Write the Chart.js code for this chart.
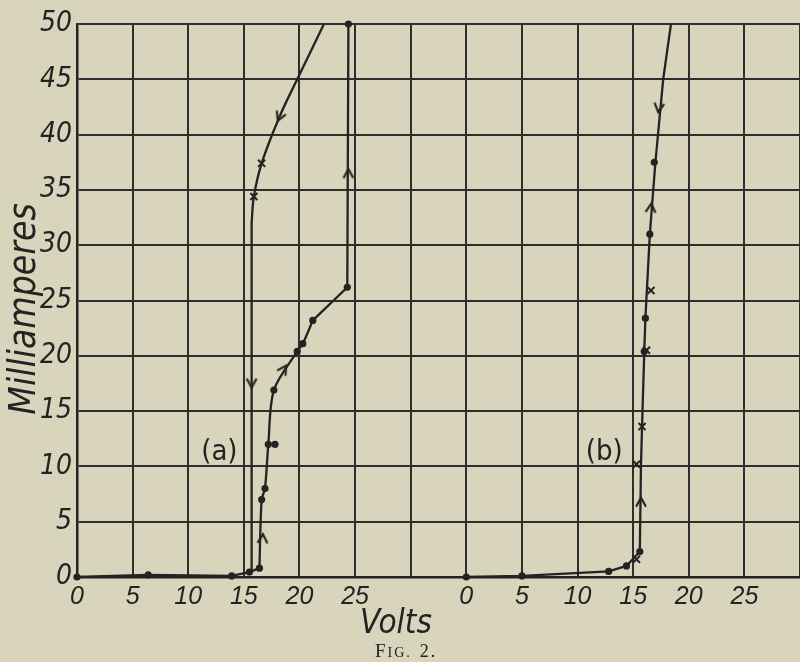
<!DOCTYPE html>
<html>
<head>
<meta charset="utf-8">
<script src="https://cdn.jsdelivr.net/npm/chart.js@4/dist/chart.umd.min.js"></script>
<style>
  html, body { margin: 0; padding: 0; background: #d8d5bc; overflow: hidden; }
  #c { display: block; }
</style>
</head>
<body>
<canvas id="c" width="800" height="662"></canvas>
<script>
// ---------- DATA (volts, milliamperes) ----------
// Tick values
const xTickLabelsA = [0, 5, 10, 15, 20, 25];
const xTickLabelsB = [0, 5, 10, 15, 20, 25];
const yTicks = [0, 5, 10, 15, 20, 25, 30, 35, 40, 45, 50];

// Panel (a): rising curve (voltage increasing)
const aRiseV = [0, 6.4, 13.9, 15.5, 16.4, 16.6, 16.9, 17.2, 17.7, 19.8, 20.3, 21.2, 24.3, 24.4];
const aRiseI = [0, 0.2, 0.1, 0.45, 0.8, 7, 8, 12, 16.9, 20.4, 21.1, 23.2, 26.2, 50];
// Panel (a): falling curve (voltage decreasing)
const aFallV = [22.2, 19.8, 18.2, 16.6, 15.9, 15.7, 15.7];
const aFallI = [50, 45, 41.6, 37.4, 34.4, 32, 0.45];
// Panel (a): observed points
const aDotV = [0, 6.4, 13.9, 15.5, 16.4, 16.6, 16.9, 17.2, 17.8, 17.7, 19.8, 20.3, 21.2, 24.3, 24.4];
const aDotI = [0, 0.2, 0.1, 0.45, 0.8, 7, 8, 12, 12, 16.9, 20.4, 21.1, 23.2, 26.2, 50];
const aCrossV = [16.6, 15.9];
const aCrossI = [37.4, 34.4];
const aArrowV = [16.7, 18.6, 24.4, 15.7, 18.2];
const aArrowI = [3.5, 18.8, 36.5, 17.5, 41.6];
const aArrowRot = [3, 32, 0, 180, 203];

// Panel (b)
const bLineV = [0, 5, 12.8, 14.4, 15.6, 15.7, 15.8, 16.0, 16.1, 16.5, 17.0, 17.7, 18.4];
const bLineI = [0, 0.1, 0.5, 1.0, 2.3, 10, 13.6, 20.4, 23.4, 31.0, 37.5, 45, 50];
const bDotV = [0, 5, 12.8, 14.4, 15.6, 16.0, 16.1, 16.5, 16.9];
const bDotI = [0, 0.1, 0.5, 1.0, 2.3, 20.4, 23.4, 31.0, 37.5];
const bCrossV = [15.3, 15.3, 15.8, 16.2, 16.6];
const bCrossI = [1.6, 10.2, 13.6, 20.5, 25.9];
const bArrowV = [15.7, 16.6, 17.3];
const bArrowI = [6.8, 33.4, 42.4];
const bArrowRot = [0, 5, 188];

// ---------- layout helpers ----------
const B_OFFSET = 35;   // panel (b) origin sits 7 grid squares right of panel (a)
const X_MAX = 65;
const INK = '#232323';
const PAPER = '#d8d5bc';

function pts(vs, is, off) {
  return vs.map((v, k) => ({ x: v + (off || 0), y: is[k] }));
}

// chevron arrow head image
const arrowImg = document.createElement('canvas');
arrowImg.width = 14; arrowImg.height = 14;
(function () {
  const g = arrowImg.getContext('2d');
  g.strokeStyle = INK; g.lineWidth = 2.2; g.lineCap = 'round'; g.lineJoin = 'miter';
  g.beginPath(); g.moveTo(2.5, 11); g.lineTo(7, 3); g.lineTo(11.5, 11); g.stroke();
})();

function lineDS(data, tension) {
  return { data, showLine: true, borderColor: INK, borderWidth: 2.3, pointRadius: 0,
           tension: tension || 0, fill: false, clip: false, order: 2 };
}
function dotDS(data) {
  return { data, showLine: false, pointStyle: 'circle', pointRadius: 3.6,
           pointBackgroundColor: INK, pointBorderColor: INK, pointBorderWidth: 0, clip: false, order: 1 };
}
function crossDS(data) {
  return { data, showLine: false, pointStyle: 'crossRot', pointRadius: 5,
           pointBorderColor: INK, pointBorderWidth: 2, clip: false, order: 1 };
}
function arrowDS(data, rot) {
  return { data, showLine: false, pointStyle: arrowImg, pointRadius: 7,
           pointRotation: rot, clip: false, order: 1 };
}

const aRise = pts(aRiseV, aRiseI);
const aFall = pts(aFallV, aFallI);
const datasets = [
  lineDS(aRise.slice(0, 5), 0),
  lineDS(aRise.slice(4, 12), 0.3),
  lineDS(aRise.slice(11), 0),
  lineDS(aFall.slice(0, 6), 0.4),
  lineDS(aFall.slice(5), 0),
  lineDS(pts(bLineV, bLineI, B_OFFSET), 0),
  dotDS(pts(aDotV, aDotI)),
  crossDS(pts(aCrossV, aCrossI)),
  arrowDS(pts(aArrowV, aArrowI), aArrowRot),
  dotDS(pts(bDotV, bDotI, B_OFFSET)),
  crossDS(pts(bCrossV, bCrossI, B_OFFSET)),
  arrowDS(pts(bArrowV, bArrowI, B_OFFSET), bArrowRot)
];

const paperPlugin = {
  id: 'paper',
  beforeDraw(chart) {
    const c = chart.ctx;
    c.save(); c.fillStyle = PAPER; c.fillRect(0, 0, chart.width, chart.height); c.restore();
  }
};

const textPlugin = {
  id: 'texts',
  afterDraw(chart) {
    const c = chart.ctx, xs = chart.scales.x, ys = chart.scales.y;
    c.save();
    c.fillStyle = INK;
    c.textAlign = 'center'; c.textBaseline = 'middle';
    // y-axis title
    c.save();
    c.translate(25, 309); c.rotate(-Math.PI / 2);
    c.font = 'italic 37px "Liberation Sans Narrow", "DejaVu Sans Condensed", sans-serif';
    c.fillText('Milliamperes', 0, 0);
    c.restore();
    // x-axis title
    c.font = 'italic 33px "Liberation Sans Narrow", "DejaVu Sans Condensed", sans-serif';
    c.fillText('Volts', 396, 624);
    // figure caption in small caps
    c.textAlign = 'left'; c.textBaseline = 'alphabetic';
    try { c.letterSpacing = '2px'; } catch (e) {}
    let x = 375; const base = 657;
    c.font = '19px "Liberation Serif", serif';
    c.fillText('F', x, base); x += c.measureText('F').width;
    c.font = '14px "Liberation Serif", serif';
    c.fillText('IG.', x, base); x += c.measureText('IG.').width + 8;
    c.font = '18px "Liberation Serif", serif';
    c.fillText('2.', x, base);
    try { c.letterSpacing = '0px'; } catch (e) {}
    // panel labels
    c.textAlign = 'center'; c.textBaseline = 'middle';
    c.font = '29px "DejaVu Sans Condensed", "Liberation Sans", sans-serif';
    c.fillText('(a)', xs.getPixelForValue(12.8), ys.getPixelForValue(11.3));
    c.fillText('(b)', xs.getPixelForValue(B_OFFSET + 12.4), ys.getPixelForValue(11.3));
    c.restore();
  }
};

function xLabel(v) {
  if (v <= 25 && xTickLabelsA.includes(v)) return String(v);
  const w = v - B_OFFSET;
  if (w >= 0 && xTickLabelsB.includes(w)) return String(w);
  return '';
}

new Chart(document.getElementById('c'), {
  type: 'scatter',
  data: { datasets },
  options: {
    responsive: false,
    animation: false,
    events: [],
    layout: { padding: { top: 24, right: -2, left: 0, bottom: 0 }, autoPadding: false },
    plugins: { legend: { display: false }, tooltip: { enabled: false } },
    scales: {
      x: {
        type: 'linear', min: 0, max: X_MAX,
        afterFit(s) { s.height = 85; s.paddingLeft = 0; s.paddingRight = 0; },
        afterBuildTicks(s) { s.ticks = []; for (let v = 0; v <= X_MAX; v += 5) s.ticks.push({ value: v }); },
        ticks: {
          callback: xLabel, autoSkip: false, maxRotation: 0, padding: 5,
          color: INK, font: { family: '"Liberation Sans", sans-serif', style: 'italic', size: 25 }
        },
        grid: { color: '#2e2e2e', lineWidth: 2, drawTicks: false },
        border: { display: true, color: INK, width: 2.5 }
      },
      y: {
        type: 'linear', min: 0, max: 50,
        afterFit(s) { s.width = 77; s.paddingTop = 0; s.paddingBottom = 0; },
        afterBuildTicks(s) { s.ticks = yTicks.map(v => ({ value: v })); },
        ticks: {
          padding: 5, color: INK,
          font: { family: '"Liberation Sans Narrow", "DejaVu Sans Condensed", sans-serif', style: 'italic', size: 28 }
        },
        grid: { color: '#2e2e2e', lineWidth: 2, drawTicks: false },
        border: { display: true, color: INK, width: 2.5 }
      }
    }
  },
  plugins: [paperPlugin, textPlugin]
});
</script>
</body>
</html>
